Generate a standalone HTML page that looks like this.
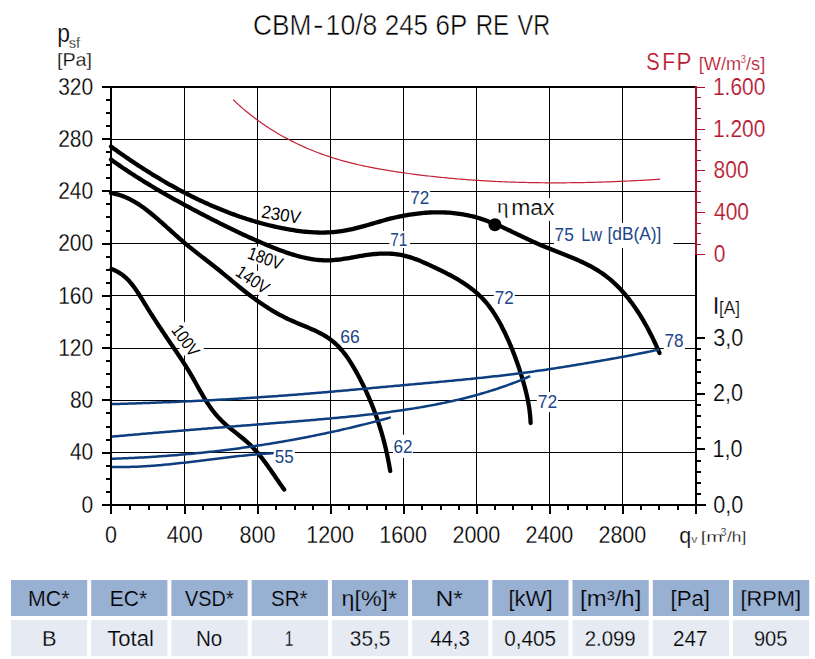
<!DOCTYPE html><html><head><meta charset="utf-8"><style>html,body{margin:0;padding:0;background:#fff;width:815px;height:659px;overflow:hidden}svg{display:block}text{font-family:"Liberation Sans", sans-serif;stroke:#fff;stroke-width:0.25px;paint-order:normal}</style></head><body>
<svg width="815" height="659" viewBox="0 0 815 659">
<g shape-rendering="crispEdges">
<rect x="184" y="88" width="1" height="416" fill="#000"/>
<rect x="257" y="88" width="1" height="416" fill="#000"/>
<rect x="330" y="88" width="1" height="416" fill="#000"/>
<rect x="403" y="88" width="1" height="416" fill="#000"/>
<rect x="476" y="88" width="1" height="416" fill="#000"/>
<rect x="549" y="88" width="1" height="416" fill="#000"/>
<rect x="622" y="88" width="1" height="416" fill="#000"/>
<rect x="112" y="139" width="583" height="1" fill="#000"/>
<rect x="112" y="191" width="583" height="1" fill="#000"/>
<rect x="112" y="243" width="583" height="1" fill="#000"/>
<rect x="112" y="295" width="583" height="1" fill="#000"/>
<rect x="112" y="348" width="583" height="1" fill="#000"/>
<rect x="112" y="400" width="583" height="1" fill="#000"/>
<rect x="112" y="452" width="583" height="1" fill="#000"/>
</g>
<rect x="409.2" y="189.0" width="20.7" height="17.0" fill="#fff"/>
<rect x="389.4" y="231.0" width="20.7" height="17.0" fill="#fff"/>
<rect x="493.8" y="289.0" width="21.0" height="17.0" fill="#fff"/>
<rect x="536.8" y="392.0" width="21.2" height="20.1" fill="#fff"/>
<rect x="663.8" y="332.0" width="21.2" height="17.5" fill="#fff"/>
<rect x="393.0" y="434.8" width="19.9" height="23.1" fill="#fff"/>
<rect x="273.8" y="447.5" width="21.2" height="18.0" fill="#fff"/>
<rect x="554.0" y="223.0" width="119.3" height="25.0" fill="#fff"/>
<rect x="495.5" y="198.0" width="61.0" height="22.9" fill="#fff"/>
<rect x="339.0" y="328.5" width="22.0" height="17.5" fill="#fff"/>
<path d="M233.10,99.59 L234.57,101.00 L236.05,102.40 L237.54,103.77 L239.05,105.14 L240.56,106.49 L242.09,107.83 L243.62,109.15 L245.17,110.46 L246.73,111.75 L248.30,113.03 L249.88,114.30 L251.47,115.55 L253.06,116.79 L254.67,118.01 L256.29,119.22 L257.92,120.42 L259.56,121.60 L261.21,122.77 L262.87,123.92 L264.53,125.06 L266.21,126.18 L267.89,127.30 L269.59,128.39 L271.29,129.48 L273.00,130.54 L274.72,131.60 L276.45,132.64 L278.18,133.67 L279.92,134.68 L281.68,135.68 L283.44,136.66 L285.20,137.63 L286.98,138.59 L288.76,139.53 L290.55,140.46 L292.34,141.38 L294.15,142.28 L295.96,143.17 L297.77,144.04 L299.60,144.90 L301.43,145.74 L303.26,146.58 L305.11,147.39 L306.95,148.20 L308.81,148.99 L310.67,149.76 L312.53,150.52 L314.41,151.27 L316.28,152.01 L318.16,152.73 L320.05,153.43 L321.94,154.13 L323.84,154.80 L325.74,155.47 L327.65,156.12 L329.56,156.76 L331.48,157.38 L333.40,157.99 L335.32,158.59 L337.25,159.17 L339.18,159.74 L341.12,160.30 L343.06,160.84 L345.00,161.38 L346.95,161.90 L348.90,162.41 L350.85,162.90 L352.81,163.39 L354.77,163.87 L356.73,164.33 L358.69,164.79 L360.66,165.23 L362.63,165.67 L364.61,166.09 L366.58,166.51 L368.56,166.92 L370.54,167.31 L372.52,167.70 L374.51,168.08 L376.50,168.46 L378.48,168.82 L380.47,169.18 L382.47,169.53 L384.46,169.87 L386.45,170.20 L388.45,170.53 L390.45,170.86 L392.45,171.17 L394.44,171.48 L396.44,171.79 L398.45,172.09 L400.45,172.38 L402.45,172.67 L404.45,172.95 L406.45,173.23 L408.46,173.51 L410.46,173.78 L412.46,174.05 L414.47,174.31 L416.47,174.56 L418.48,174.82 L420.48,175.07 L422.49,175.31 L424.50,175.55 L426.50,175.79 L428.51,176.02 L430.52,176.25 L432.52,176.47 L434.53,176.69 L436.54,176.90 L438.55,177.11 L440.55,177.32 L442.56,177.52 L444.57,177.72 L446.58,177.91 L448.59,178.10 L450.60,178.29 L452.61,178.47 L454.62,178.65 L456.63,178.82 L458.64,178.99 L460.66,179.15 L462.67,179.32 L464.68,179.47 L466.69,179.63 L468.70,179.78 L470.71,179.92 L472.73,180.06 L474.74,180.20 L476.75,180.34 L478.77,180.47 L480.78,180.59 L482.79,180.72 L484.81,180.84 L486.82,180.95 L488.84,181.06 L490.85,181.17 L492.86,181.28 L494.88,181.38 L496.89,181.48 L498.91,181.57 L500.92,181.66 L502.94,181.75 L504.95,181.83 L506.97,181.91 L508.99,181.98 L511.00,182.06 L513.02,182.13 L515.03,182.19 L517.05,182.25 L519.07,182.31 L521.08,182.37 L523.10,182.42 L525.12,182.47 L527.13,182.52 L529.15,182.56 L531.17,182.60 L533.18,182.63 L535.20,182.67 L537.22,182.69 L539.23,182.72 L541.25,182.74 L543.27,182.76 L545.29,182.78 L547.30,182.79 L549.32,182.80 L551.34,182.81 L553.36,182.82 L555.37,182.82 L557.39,182.82 L559.41,182.81 L561.43,182.80 L563.44,182.79 L565.46,182.78 L567.48,182.76 L569.50,182.74 L571.51,182.72 L573.53,182.70 L575.55,182.67 L577.57,182.64 L579.58,182.60 L581.60,182.57 L583.62,182.53 L585.64,182.49 L587.65,182.44 L589.67,182.39 L591.69,182.35 L593.70,182.29 L595.72,182.24 L597.74,182.18 L599.76,182.12 L601.77,182.06 L603.79,181.99 L605.81,181.92 L607.82,181.85 L609.84,181.78 L611.85,181.70 L613.87,181.63 L615.89,181.55 L617.90,181.46 L619.92,181.38 L621.93,181.29 L623.95,181.20 L625.96,181.11 L627.98,181.02 L630.00,180.92 L632.01,180.82 L634.02,180.72 L636.04,180.62 L638.05,180.51 L640.07,180.40 L642.08,180.29 L644.10,180.18 L646.11,180.07 L648.12,179.95 L650.14,179.83 L652.15,179.71 L654.16,179.59 L656.18,179.46 L658.19,179.34 L660.20,179.21" fill="none" stroke="#C42236" stroke-width="1.2"/>
<rect x="-21.65" y="-8.80" width="43.30" height="17.60" fill="#fff" transform="translate(281.600 214.700) rotate(10)"/>
<rect x="-19.25" y="-8.30" width="38.50" height="16.60" fill="#fff" transform="translate(266.000 258.500) rotate(20)"/>
<rect x="-20.75" y="-9.80" width="41.50" height="19.60" fill="#fff" transform="translate(253.200 279.900) rotate(34)"/>
<rect x="-20.00" y="-9.80" width="40.00" height="19.60" fill="#fff" transform="translate(186.000 340.900) rotate(54)"/>
<path d="M111.01,146.59 L112.63,147.76 L114.26,148.93 L115.88,150.09 L117.52,151.25 L119.15,152.41 L120.79,153.56 L122.44,154.71 L124.08,155.85 L125.73,156.99 L127.39,158.13 L129.05,159.26 L130.71,160.38 L132.37,161.50 L134.04,162.62 L135.72,163.73 L137.39,164.84 L139.07,165.94 L140.76,167.03 L142.45,168.12 L144.14,169.21 L145.83,170.29 L147.53,171.36 L149.24,172.43 L150.94,173.49 L152.65,174.55 L154.37,175.60 L156.09,176.64 L157.81,177.68 L159.53,178.71 L161.26,179.73 L162.99,180.75 L164.73,181.76 L166.47,182.77 L168.21,183.77 L169.96,184.76 L171.71,185.74 L173.47,186.72 L175.23,187.69 L176.99,188.65 L178.76,189.61 L180.53,190.56 L182.30,191.50 L184.08,192.43 L185.86,193.36 L187.65,194.27 L189.44,195.18 L191.23,196.08 L193.03,196.98 L194.83,197.86 L196.63,198.74 L198.44,199.61 L200.25,200.47 L202.07,201.32 L203.88,202.16 L205.71,203.00 L207.53,203.82 L209.37,204.64 L211.20,205.45 L213.04,206.24 L214.88,207.03 L216.73,207.81 L218.58,208.58 L220.43,209.34 L222.29,210.10 L224.15,210.84 L226.01,211.57 L227.88,212.29 L229.75,213.00 L231.63,213.70 L233.51,214.39 L235.39,215.08 L237.28,215.75 L239.17,216.41 L241.06,217.06 L242.96,217.69 L244.87,218.32 L246.77,218.94 L248.68,219.55 L250.60,220.14 L252.52,220.73 L254.44,221.30 L256.36,221.86 L258.29,222.41 L260.22,222.95 L262.16,223.48 L264.10,223.99 L266.05,224.50 L268.00,224.99 L269.95,225.47 L271.90,225.94 L273.86,226.39 L275.83,226.84 L277.80,227.27 L279.77,227.69 L281.74,228.09 L283.72,228.48 L285.70,228.86 L287.69,229.23 L289.68,229.58 L291.67,229.91 L293.66,230.23 L295.65,230.53 L297.65,230.81 L299.65,231.07 L301.65,231.31 L303.65,231.54 L305.65,231.74 L307.65,231.92 L309.65,232.09 L311.65,232.22 L313.66,232.34 L315.66,232.43 L317.66,232.50 L319.65,232.54 L321.65,232.55 L323.65,232.54 L325.64,232.50 L327.63,232.44 L329.62,232.34 L331.61,232.22 L333.59,232.07 L335.57,231.88 L337.55,231.67 L339.52,231.42 L341.49,231.14 L343.46,230.83 L345.42,230.49 L347.38,230.12 L349.33,229.72 L351.28,229.30 L353.23,228.85 L355.18,228.38 L357.13,227.90 L359.07,227.40 L361.01,226.88 L362.95,226.35 L364.89,225.81 L366.83,225.26 L368.77,224.70 L370.71,224.14 L372.65,223.57 L374.59,223.01 L376.53,222.44 L378.47,221.88 L380.42,221.32 L382.37,220.77 L384.31,220.23 L386.27,219.70 L388.22,219.18 L390.18,218.68 L392.14,218.19 L394.10,217.72 L396.07,217.27 L398.04,216.83 L400.01,216.41 L401.99,216.02 L403.97,215.63 L405.95,215.27 L407.93,214.93 L409.91,214.61 L411.89,214.30 L413.88,214.02 L415.86,213.76 L417.85,213.52 L419.84,213.29 L421.82,213.10 L423.81,212.92 L425.80,212.76 L427.78,212.63 L429.77,212.52 L431.75,212.43 L433.74,212.36 L435.72,212.32 L437.70,212.31 L439.68,212.31 L441.65,212.34 L443.63,212.40 L445.60,212.48 L447.57,212.59 L449.54,212.72 L451.50,212.88 L453.46,213.07 L455.42,213.28 L457.37,213.52 L459.32,213.79 L461.27,214.08 L463.21,214.41 L465.14,214.76 L467.07,215.14 L469.00,215.55 L470.92,215.98 L472.84,216.45 L474.75,216.95 L476.65,217.48 L478.55,218.04 L480.44,218.62 L482.33,219.24 L484.21,219.88 L486.09,220.54 L487.96,221.23 L489.83,221.94 L491.69,222.67 L493.56,223.42 L495.41,224.18 L497.27,224.97 L499.12,225.77 L500.97,226.58 L502.82,227.41 L504.67,228.25 L506.52,229.10 L508.36,229.96 L510.20,230.82 L512.05,231.69 L513.89,232.57 L515.73,233.45 L517.58,234.34 L519.42,235.22 L521.27,236.11 L523.11,236.99 L524.96,237.87 L526.81,238.75 L528.66,239.62 L530.52,240.48 L532.37,241.34 L534.23,242.19 L536.10,243.03 L537.96,243.85 L539.84,244.67 L541.71,245.47 L543.59,246.25 L545.47,247.03 L547.35,247.80 L549.24,248.56 L551.12,249.31 L553.00,250.06 L554.89,250.80 L556.77,251.54 L558.65,252.28 L560.52,253.01 L562.40,253.75 L564.27,254.49 L566.13,255.23 L567.99,255.98 L569.84,256.74 L571.69,257.50 L573.52,258.27 L575.35,259.05 L577.18,259.84 L578.99,260.64 L580.79,261.45 L582.58,262.28 L584.36,263.13 L586.12,264.00 L587.87,264.88 L589.61,265.78 L591.34,266.71 L593.05,267.65 L594.74,268.62 L596.42,269.62 L598.08,270.64 L599.73,271.69 L601.35,272.77 L602.96,273.88 L604.55,275.02 L606.11,276.19 L607.66,277.39 L609.19,278.63 L610.69,279.89 L612.18,281.19 L613.65,282.51 L615.10,283.86 L616.53,285.24 L617.94,286.64 L619.33,288.07 L620.70,289.52 L622.05,291.00 L623.39,292.50 L624.71,294.02 L626.00,295.56 L627.28,297.13 L628.55,298.71 L629.79,300.31 L631.02,301.93 L632.23,303.57 L633.42,305.22 L634.59,306.88 L635.75,308.57 L636.89,310.26 L638.01,311.97 L639.12,313.69 L640.21,315.43 L641.28,317.17 L642.34,318.92 L643.38,320.68 L644.40,322.45 L645.41,324.23 L646.41,326.02 L647.38,327.81 L648.35,329.60 L649.29,331.40 L650.22,333.20 L651.14,335.00 L652.04,336.81 L652.93,338.62 L653.80,340.42 L654.66,342.23 L655.50,344.03 L656.33,345.84 L657.14,347.63 L657.94,349.43 L658.73,351.22 L659.50,353.00" fill="none" stroke="#000" stroke-width="4.3" stroke-linecap="round" stroke-linejoin="round"/>
<path d="M111.01,159.59 L112.64,160.76 L114.28,161.93 L115.93,163.08 L117.58,164.23 L119.23,165.38 L120.89,166.51 L122.55,167.65 L124.22,168.77 L125.89,169.89 L127.56,171.00 L129.24,172.11 L130.92,173.21 L132.60,174.30 L134.29,175.39 L135.98,176.48 L137.68,177.55 L139.37,178.63 L141.07,179.69 L142.78,180.75 L144.48,181.81 L146.19,182.86 L147.91,183.91 L149.62,184.95 L151.34,185.98 L153.06,187.01 L154.79,188.04 L156.52,189.06 L158.25,190.08 L159.98,191.09 L161.71,192.10 L163.45,193.10 L165.19,194.10 L166.93,195.09 L168.68,196.08 L170.42,197.07 L172.17,198.05 L173.92,199.03 L175.68,200.01 L177.43,200.98 L179.19,201.94 L180.95,202.91 L182.71,203.87 L184.47,204.82 L186.23,205.78 L188.00,206.73 L189.77,207.67 L191.54,208.62 L193.31,209.56 L195.08,210.50 L196.85,211.43 L198.63,212.36 L200.40,213.29 L202.18,214.22 L203.96,215.14 L205.74,216.06 L207.52,216.98 L209.30,217.90 L211.08,218.81 L212.87,219.72 L214.65,220.63 L216.44,221.54 L218.23,222.44 L220.02,223.34 L221.81,224.23 L223.60,225.13 L225.40,226.02 L227.19,226.90 L228.99,227.78 L230.80,228.66 L232.60,229.53 L234.41,230.40 L236.22,231.26 L238.03,232.12 L239.84,232.98 L241.66,233.83 L243.48,234.68 L245.30,235.52 L247.13,236.36 L248.95,237.19 L250.79,238.01 L252.62,238.83 L254.46,239.65 L256.30,240.46 L258.14,241.26 L259.99,242.06 L261.85,242.86 L263.70,243.64 L265.56,244.42 L267.42,245.20 L269.29,245.97 L271.16,246.73 L273.04,247.48 L274.92,248.23 L276.80,248.96 L278.69,249.69 L280.58,250.40 L282.48,251.10 L284.38,251.78 L286.28,252.45 L288.19,253.10 L290.10,253.73 L292.02,254.34 L293.94,254.93 L295.86,255.50 L297.79,256.04 L299.72,256.55 L301.65,257.04 L303.59,257.50 L305.54,257.93 L307.48,258.33 L309.43,258.70 L311.39,259.03 L313.34,259.33 L315.31,259.60 L317.27,259.82 L319.24,260.01 L321.21,260.15 L323.19,260.26 L325.17,260.32 L327.15,260.34 L329.14,260.31 L331.13,260.24 L333.12,260.12 L335.12,259.96 L337.12,259.76 L339.12,259.53 L341.12,259.27 L343.13,258.99 L345.14,258.68 L347.15,258.35 L349.16,258.01 L351.18,257.66 L353.19,257.31 L355.21,256.95 L357.22,256.59 L359.24,256.23 L361.26,255.88 L363.27,255.55 L365.29,255.23 L367.31,254.93 L369.32,254.65 L371.34,254.40 L373.35,254.18 L375.36,253.99 L377.37,253.83 L379.38,253.71 L381.38,253.62 L383.38,253.57 L385.37,253.56 L387.36,253.58 L389.34,253.65 L391.31,253.76 L393.28,253.91 L395.24,254.10 L397.19,254.35 L399.14,254.64 L401.07,254.98 L402.99,255.37 L404.91,255.81 L406.81,256.30 L408.71,256.83 L410.59,257.41 L412.47,258.03 L414.35,258.69 L416.21,259.37 L418.07,260.10 L419.93,260.84 L421.78,261.62 L423.63,262.41 L425.48,263.23 L427.32,264.06 L429.16,264.90 L431.00,265.76 L432.85,266.62 L434.69,267.48 L436.53,268.36 L438.37,269.24 L440.21,270.13 L442.04,271.03 L443.87,271.94 L445.69,272.86 L447.50,273.80 L449.30,274.75 L451.09,275.71 L452.88,276.69 L454.65,277.68 L456.41,278.69 L458.15,279.71 L459.88,280.76 L461.59,281.82 L463.28,282.91 L464.96,284.01 L466.61,285.14 L468.25,286.29 L469.86,287.47 L471.45,288.67 L473.02,289.89 L474.56,291.14 L476.07,292.42 L477.56,293.73 L479.02,295.07 L480.44,296.43 L481.84,297.83 L483.21,299.26 L484.54,300.72 L485.84,302.21 L487.11,303.73 L488.35,305.28 L489.56,306.86 L490.74,308.46 L491.90,310.09 L493.03,311.74 L494.13,313.41 L495.21,315.11 L496.26,316.82 L497.30,318.54 L498.31,320.29 L499.30,322.05 L500.27,323.82 L501.22,325.60 L502.15,327.39 L503.06,329.20 L503.96,331.01 L504.85,332.82 L505.71,334.64 L506.57,336.47 L507.41,338.30 L508.23,340.14 L509.05,341.98 L509.84,343.83 L510.63,345.68 L511.40,347.53 L512.16,349.39 L512.91,351.26 L513.64,353.13 L514.36,355.00 L515.07,356.88 L515.76,358.76 L516.45,360.64 L517.12,362.53 L517.78,364.42 L518.43,366.32 L519.07,368.22 L519.70,370.12 L520.31,372.03 L520.92,373.94 L521.51,375.85 L522.10,377.77 L522.68,379.69 L523.24,381.61 L523.79,383.54 L524.33,385.47 L524.85,387.41 L525.36,389.34 L525.85,391.29 L526.33,393.23 L526.78,395.18 L527.22,397.14 L527.63,399.10 L528.03,401.06 L528.40,403.03 L528.74,405.00 L529.06,406.98 L529.36,408.96 L529.62,410.95 L529.86,412.95 L530.07,414.95 L530.25,416.95 L530.40,418.96 L530.52,420.98 L530.60,423.00" fill="none" stroke="#000" stroke-width="4.3" stroke-linecap="round" stroke-linejoin="round"/>
<path d="M111.00,193.00 L113.06,193.36 L115.09,193.79 L117.08,194.29 L119.04,194.85 L120.97,195.47 L122.87,196.14 L124.74,196.87 L126.59,197.66 L128.40,198.49 L130.19,199.37 L131.96,200.30 L133.70,201.27 L135.42,202.28 L137.12,203.33 L138.80,204.41 L140.46,205.52 L142.10,206.66 L143.73,207.83 L145.34,209.03 L146.93,210.24 L148.52,211.48 L150.09,212.73 L151.65,214.00 L153.21,215.28 L154.75,216.57 L156.29,217.88 L157.81,219.19 L159.34,220.52 L160.85,221.85 L162.36,223.18 L163.87,224.53 L165.37,225.88 L166.88,227.23 L168.38,228.58 L169.88,229.93 L171.38,231.29 L172.88,232.64 L174.38,233.99 L175.88,235.34 L177.39,236.68 L178.91,238.01 L180.42,239.34 L181.95,240.66 L183.48,241.98 L185.01,243.28 L186.56,244.57 L188.11,245.85 L189.67,247.12 L191.24,248.39 L192.81,249.65 L194.38,250.90 L195.96,252.14 L197.55,253.38 L199.13,254.62 L200.72,255.85 L202.31,257.09 L203.90,258.32 L205.49,259.55 L207.09,260.78 L208.68,262.01 L210.27,263.25 L211.86,264.48 L213.44,265.73 L215.03,266.97 L216.61,268.22 L218.18,269.48 L219.76,270.75 L221.32,272.02 L222.88,273.30 L224.44,274.59 L226.00,275.88 L227.55,277.17 L229.10,278.47 L230.65,279.77 L232.20,281.07 L233.75,282.36 L235.31,283.66 L236.86,284.94 L238.42,286.23 L239.99,287.50 L241.56,288.77 L243.13,290.03 L244.71,291.29 L246.29,292.53 L247.89,293.76 L249.48,294.98 L251.09,296.19 L252.70,297.39 L254.32,298.58 L255.95,299.76 L257.58,300.93 L259.23,302.08 L260.88,303.22 L262.54,304.34 L264.21,305.46 L265.89,306.55 L267.58,307.64 L269.28,308.70 L270.99,309.76 L272.71,310.79 L274.44,311.81 L276.18,312.81 L277.94,313.80 L279.70,314.77 L281.48,315.71 L283.27,316.65 L285.07,317.56 L286.89,318.45 L288.72,319.32 L290.56,320.17 L292.42,321.01 L294.28,321.82 L296.16,322.62 L298.04,323.41 L299.93,324.20 L301.82,324.98 L303.70,325.75 L305.59,326.53 L307.47,327.32 L309.34,328.11 L311.20,328.92 L313.05,329.74 L314.88,330.57 L316.70,331.43 L318.50,332.31 L320.27,333.22 L322.02,334.16 L323.75,335.13 L325.45,336.14 L327.12,337.19 L328.75,338.28 L330.35,339.42 L331.91,340.60 L333.43,341.84 L334.91,343.12 L336.35,344.46 L337.76,345.83 L339.13,347.26 L340.47,348.72 L341.78,350.21 L343.06,351.75 L344.30,353.32 L345.52,354.92 L346.71,356.54 L347.88,358.20 L349.02,359.88 L350.13,361.58 L351.23,363.30 L352.30,365.04 L353.35,366.80 L354.38,368.57 L355.40,370.35 L356.40,372.14 L357.38,373.94 L358.35,375.74 L359.31,377.54 L360.25,379.36 L361.18,381.17 L362.10,382.99 L363.00,384.81 L363.89,386.64 L364.77,388.47 L365.63,390.31 L366.48,392.15 L367.32,393.99 L368.14,395.84 L368.95,397.69 L369.74,399.55 L370.53,401.41 L371.30,403.27 L372.05,405.14 L372.80,407.02 L373.53,408.89 L374.24,410.77 L374.95,412.66 L375.64,414.55 L376.32,416.44 L376.98,418.34 L377.64,420.24 L378.28,422.15 L378.90,424.05 L379.52,425.97 L380.12,427.88 L380.71,429.80 L381.28,431.73 L381.85,433.66 L382.40,435.59 L382.94,437.53 L383.46,439.47 L383.98,441.41 L384.48,443.36 L384.97,445.31 L385.44,447.26 L385.91,449.22 L386.36,451.18 L386.80,453.15 L387.23,455.12 L387.64,457.09 L388.04,459.07 L388.43,461.05 L388.81,463.03 L389.18,465.02 L389.53,467.01 L389.88,469.00 L390.21,471.00" fill="none" stroke="#000" stroke-width="4.3" stroke-linecap="round" stroke-linejoin="round"/>
<path d="M111.50,269.09 L113.50,269.84 L115.42,270.68 L117.27,271.61 L119.03,272.61 L120.72,273.69 L122.35,274.84 L123.91,276.06 L125.42,277.35 L126.86,278.69 L128.25,280.09 L129.60,281.54 L130.90,283.04 L132.16,284.58 L133.38,286.16 L134.57,287.78 L135.73,289.43 L136.87,291.10 L137.98,292.79 L139.08,294.51 L140.16,296.24 L141.23,297.97 L142.30,299.72 L143.36,301.46 L144.42,303.21 L145.49,304.94 L146.57,306.68 L147.64,308.40 L148.73,310.13 L149.81,311.84 L150.90,313.56 L151.99,315.27 L153.09,316.97 L154.19,318.67 L155.29,320.37 L156.40,322.07 L157.51,323.76 L158.62,325.45 L159.73,327.13 L160.85,328.81 L161.97,330.49 L163.09,332.17 L164.22,333.85 L165.34,335.52 L166.47,337.19 L167.60,338.87 L168.73,340.53 L169.86,342.20 L170.99,343.87 L172.13,345.54 L173.26,347.20 L174.39,348.87 L175.53,350.54 L176.66,352.21 L177.78,353.88 L178.91,355.56 L180.03,357.24 L181.14,358.92 L182.25,360.61 L183.35,362.30 L184.45,364.00 L185.53,365.71 L186.61,367.43 L187.67,369.15 L188.73,370.88 L189.77,372.63 L190.80,374.38 L191.82,376.14 L192.83,377.91 L193.84,379.68 L194.84,381.46 L195.84,383.24 L196.83,385.02 L197.83,386.80 L198.83,388.57 L199.83,390.34 L200.84,392.11 L201.86,393.87 L202.89,395.62 L203.92,397.36 L204.98,399.09 L206.04,400.81 L207.13,402.51 L208.23,404.19 L209.35,405.86 L210.50,407.50 L211.67,409.13 L212.86,410.73 L214.08,412.31 L215.34,413.87 L216.62,415.39 L217.94,416.89 L219.29,418.36 L220.68,419.79 L222.11,421.20 L223.56,422.57 L225.05,423.92 L226.57,425.25 L228.11,426.55 L229.66,427.84 L231.23,429.12 L232.82,430.39 L234.41,431.66 L236.00,432.92 L237.60,434.18 L239.19,435.44 L240.78,436.71 L242.35,437.99 L243.91,439.28 L245.46,440.59 L246.98,441.92 L248.47,443.28 L249.94,444.66 L251.38,446.06 L252.79,447.49 L254.17,448.95 L255.52,450.43 L256.85,451.94 L258.16,453.46 L259.45,455.01 L260.71,456.57 L261.96,458.15 L263.19,459.74 L264.41,461.35 L265.61,462.98 L266.80,464.61 L267.97,466.25 L269.14,467.91 L270.30,469.57 L271.46,471.24 L272.61,472.91 L273.76,474.58 L274.90,476.26 L276.05,477.94 L277.20,479.62 L278.35,481.30 L279.50,482.97 L280.66,484.64 L281.83,486.30 L283.01,487.96 L284.20,489.60" fill="none" stroke="#000" stroke-width="4.3" stroke-linecap="round" stroke-linejoin="round"/>
<circle cx="494.9" cy="224.7" r="6.5" fill="#000"/>
<path d="M111.00,404.10 L113.01,404.04 L115.03,403.99 L117.04,403.93 L119.05,403.88 L121.07,403.82 L123.08,403.76 L125.09,403.70 L127.10,403.64 L129.12,403.58 L131.13,403.52 L133.14,403.45 L135.15,403.39 L137.17,403.32 L139.18,403.26 L141.19,403.19 L143.20,403.12 L145.22,403.05 L147.23,402.98 L149.24,402.91 L151.25,402.83 L153.26,402.76 L155.27,402.68 L157.29,402.61 L159.30,402.53 L161.31,402.45 L163.32,402.37 L165.33,402.29 L167.34,402.21 L169.35,402.13 L171.36,402.05 L173.37,401.96 L175.39,401.88 L177.40,401.79 L179.41,401.70 L181.42,401.61 L183.43,401.52 L185.44,401.43 L187.45,401.34 L189.46,401.25 L191.47,401.15 L193.48,401.06 L195.49,400.96 L197.50,400.86 L199.51,400.76 L201.52,400.66 L203.53,400.56 L205.54,400.46 L207.55,400.36 L209.56,400.25 L211.57,400.15 L213.57,400.04 L215.58,399.93 L217.59,399.82 L219.60,399.71 L221.61,399.60 L223.62,399.49 L225.63,399.38 L227.64,399.26 L229.65,399.14 L231.65,399.03 L233.66,398.91 L235.67,398.79 L237.68,398.67 L239.69,398.55 L241.70,398.42 L243.70,398.30 L245.71,398.17 L247.72,398.05 L249.73,397.92 L251.74,397.79 L253.74,397.66 L255.75,397.53 L257.76,397.39 L259.77,397.26 L261.77,397.12 L263.78,396.99 L265.79,396.85 L267.80,396.71 L269.80,396.57 L271.81,396.43 L273.82,396.29 L275.82,396.14 L277.83,396.00 L279.84,395.85 L281.85,395.70 L283.85,395.55 L285.86,395.40 L287.86,395.25 L289.87,395.10 L291.88,394.94 L293.88,394.79 L295.89,394.63 L297.90,394.47 L299.90,394.31 L301.91,394.15 L303.91,393.99 L305.92,393.83 L307.93,393.67 L309.93,393.50 L311.94,393.34 L313.94,393.17 L315.95,393.00 L317.95,392.83 L319.96,392.66 L321.97,392.49 L323.97,392.32 L325.98,392.15 L327.98,391.98 L329.99,391.80 L331.99,391.63 L334.00,391.45 L336.00,391.28 L338.01,391.10 L340.01,390.93 L342.02,390.75 L344.02,390.57 L346.03,390.39 L348.03,390.21 L350.04,390.03 L352.04,389.85 L354.05,389.67 L356.05,389.49 L358.06,389.31 L360.06,389.13 L362.07,388.95 L364.07,388.76 L366.08,388.58 L368.08,388.40 L370.09,388.22 L372.09,388.03 L374.10,387.85 L376.10,387.67 L378.11,387.48 L380.11,387.30 L382.12,387.12 L384.12,386.93 L386.13,386.75 L388.13,386.57 L390.14,386.38 L392.14,386.20 L394.15,386.02 L396.15,385.83 L398.16,385.65 L400.16,385.47 L402.17,385.29 L404.17,385.10 L406.18,384.92 L408.18,384.74 L410.19,384.56 L412.19,384.38 L414.20,384.20 L416.20,384.01 L418.21,383.83 L420.21,383.65 L422.22,383.47 L424.22,383.29 L426.23,383.11 L428.23,382.92 L430.24,382.74 L432.24,382.56 L434.25,382.37 L436.25,382.19 L438.25,382.00 L440.26,381.82 L442.26,381.63 L444.27,381.44 L446.27,381.26 L448.28,381.07 L450.28,380.88 L452.28,380.69 L454.29,380.50 L456.29,380.30 L458.29,380.11 L460.30,379.91 L462.30,379.72 L464.30,379.52 L466.30,379.32 L468.31,379.12 L470.31,378.92 L472.31,378.71 L474.31,378.51 L476.31,378.30 L478.32,378.09 L480.32,377.88 L482.32,377.67 L484.32,377.46 L486.32,377.24 L488.32,377.03 L490.32,376.81 L492.32,376.59 L494.32,376.36 L496.32,376.14 L498.32,375.91 L500.31,375.68 L502.31,375.45 L504.31,375.21 L506.31,374.97 L508.31,374.73 L510.30,374.49 L512.30,374.25 L514.30,374.00 L516.29,373.75 L518.29,373.50 L520.28,373.24 L522.28,372.98 L524.27,372.72 L526.27,372.46 L528.26,372.19 L530.25,371.92 L532.25,371.65 L534.24,371.37 L536.23,371.09 L538.23,370.81 L540.22,370.52 L542.21,370.23 L544.20,369.94 L546.19,369.64 L548.18,369.34 L550.17,369.04 L552.16,368.74 L554.15,368.43 L556.14,368.12 L558.12,367.81 L560.11,367.49 L562.10,367.18 L564.09,366.86 L566.07,366.54 L568.06,366.22 L570.05,365.90 L572.04,365.57 L574.02,365.25 L576.01,364.92 L577.99,364.60 L579.98,364.27 L581.97,363.94 L583.95,363.61 L585.94,363.28 L587.92,362.94 L589.91,362.61 L591.89,362.27 L593.88,361.94 L595.86,361.60 L597.85,361.26 L599.83,360.91 L601.81,360.57 L603.80,360.22 L605.78,359.88 L607.76,359.53 L609.74,359.17 L611.72,358.82 L613.71,358.46 L615.69,358.11 L617.67,357.74 L619.65,357.38 L621.62,357.02 L623.60,356.65 L625.58,356.28 L627.56,355.90 L629.53,355.53 L631.51,355.15 L633.49,354.76 L635.46,354.38 L637.43,353.99 L639.41,353.60 L641.38,353.21 L643.35,352.81 L645.32,352.41 L647.29,352.00 L649.26,351.60 L651.23,351.18 L653.20,350.77 L655.17,350.35 L657.14,349.93 L659.10,349.50" fill="none" stroke="#0C3E80" stroke-width="2.5"/>
<path d="M111.00,436.71 L113.01,436.53 L115.01,436.35 L117.02,436.17 L119.02,435.99 L121.03,435.81 L123.04,435.63 L125.04,435.45 L127.05,435.27 L129.05,435.09 L131.06,434.92 L133.06,434.74 L135.07,434.57 L137.08,434.39 L139.08,434.22 L141.09,434.04 L143.10,433.87 L145.10,433.69 L147.11,433.52 L149.11,433.35 L151.12,433.18 L153.13,433.01 L155.13,432.84 L157.14,432.67 L159.15,432.50 L161.16,432.33 L163.16,432.16 L165.17,431.99 L167.18,431.82 L169.18,431.65 L171.19,431.48 L173.20,431.32 L175.21,431.15 L177.21,430.98 L179.22,430.82 L181.23,430.65 L183.24,430.49 L185.25,430.32 L187.25,430.16 L189.26,429.99 L191.27,429.83 L193.28,429.66 L195.29,429.50 L197.29,429.33 L199.30,429.17 L201.31,429.01 L203.32,428.84 L205.33,428.68 L207.34,428.52 L209.35,428.36 L211.36,428.19 L213.36,428.03 L215.37,427.87 L217.38,427.71 L219.39,427.55 L221.40,427.39 L223.41,427.22 L225.42,427.06 L227.43,426.90 L229.44,426.74 L231.45,426.58 L233.46,426.42 L235.47,426.26 L237.48,426.10 L239.49,425.93 L241.50,425.77 L243.51,425.61 L245.52,425.45 L247.53,425.29 L249.54,425.13 L251.56,424.97 L253.57,424.81 L255.58,424.65 L257.59,424.49 L259.60,424.33 L261.61,424.16 L263.62,424.00 L265.63,423.84 L267.65,423.68 L269.66,423.52 L271.67,423.36 L273.68,423.19 L275.69,423.03 L277.71,422.87 L279.72,422.71 L281.73,422.55 L283.74,422.38 L285.76,422.22 L287.77,422.06 L289.78,421.89 L291.79,421.73 L293.81,421.57 L295.82,421.40 L297.83,421.24 L299.85,421.07 L301.86,420.91 L303.87,420.74 L305.89,420.57 L307.90,420.40 L309.91,420.24 L311.93,420.07 L313.94,419.89 L315.95,419.72 L317.96,419.55 L319.98,419.37 L321.99,419.20 L324.00,419.02 L326.01,418.84 L328.03,418.66 L330.04,418.48 L332.05,418.30 L334.06,418.11 L336.07,417.92 L338.08,417.73 L340.09,417.54 L342.10,417.35 L344.11,417.15 L346.12,416.96 L348.13,416.76 L350.14,416.55 L352.15,416.35 L354.16,416.14 L356.16,415.93 L358.17,415.72 L360.18,415.50 L362.18,415.28 L364.19,415.06 L366.19,414.84 L368.20,414.61 L370.20,414.38 L372.21,414.15 L374.21,413.91 L376.21,413.67 L378.21,413.42 L380.21,413.18 L382.21,412.93 L384.21,412.67 L386.21,412.41 L388.21,412.15 L390.21,411.88 L392.20,411.61 L394.20,411.34 L396.20,411.06 L398.19,410.78 L400.18,410.49 L402.18,410.20 L404.17,409.91 L406.16,409.61 L408.15,409.30 L410.14,408.99 L412.13,408.68 L414.11,408.36 L416.10,408.03 L418.08,407.70 L420.07,407.37 L422.05,407.03 L424.03,406.68 L426.01,406.33 L427.99,405.98 L429.97,405.61 L431.95,405.24 L433.92,404.87 L435.90,404.49 L437.87,404.10 L439.84,403.71 L441.81,403.31 L443.78,402.90 L445.74,402.49 L447.71,402.07 L449.67,401.64 L451.63,401.21 L453.59,400.77 L455.55,400.32 L457.51,399.87 L459.46,399.40 L461.41,398.93 L463.37,398.46 L465.31,397.97 L467.26,397.48 L469.21,396.98 L471.15,396.47 L473.09,395.95 L475.03,395.43 L476.97,394.89 L478.90,394.35 L480.84,393.80 L482.77,393.24 L484.69,392.67 L486.62,392.09 L488.54,391.51 L490.46,390.91 L492.38,390.31 L494.30,389.69 L496.21,389.07 L498.13,388.44 L500.04,387.80 L501.94,387.14 L503.85,386.48 L505.75,385.81 L507.65,385.13 L509.54,384.44 L511.44,383.73 L513.33,383.02 L515.22,382.30 L517.10,381.56 L518.98,380.82 L520.86,380.06 L522.74,379.30 L524.61,378.52 L526.48,377.73 L528.35,376.93 L530.22,376.12" fill="none" stroke="#0C3E80" stroke-width="2.5"/>
<path d="M111.00,458.79 L113.03,458.73 L115.05,458.66 L117.08,458.59 L119.11,458.52 L121.13,458.44 L123.16,458.36 L125.18,458.27 L127.21,458.19 L129.23,458.10 L131.26,458.00 L133.28,457.91 L135.31,457.81 L137.33,457.70 L139.36,457.60 L141.38,457.49 L143.40,457.38 L145.43,457.26 L147.45,457.14 L149.47,457.02 L151.49,456.89 L153.52,456.76 L155.54,456.63 L157.56,456.50 L159.58,456.36 L161.60,456.22 L163.62,456.07 L165.64,455.93 L167.66,455.77 L169.68,455.62 L171.70,455.46 L173.72,455.30 L175.74,455.14 L177.76,454.97 L179.78,454.80 L181.79,454.62 L183.81,454.45 L185.83,454.27 L187.85,454.08 L189.86,453.90 L191.88,453.71 L193.89,453.51 L195.91,453.31 L197.92,453.11 L199.94,452.91 L201.95,452.70 L203.97,452.49 L205.98,452.28 L207.99,452.06 L210.00,451.84 L212.02,451.62 L214.03,451.39 L216.04,451.16 L218.05,450.93 L220.06,450.69 L222.07,450.45 L224.08,450.21 L226.09,449.96 L228.10,449.71 L230.10,449.46 L232.11,449.20 L234.12,448.94 L236.12,448.67 L238.13,448.41 L240.14,448.14 L242.14,447.86 L244.15,447.59 L246.15,447.30 L248.15,447.02 L250.16,446.73 L252.16,446.44 L254.16,446.15 L256.16,445.85 L258.16,445.55 L260.17,445.24 L262.17,444.94 L264.16,444.62 L266.16,444.31 L268.16,443.99 L270.16,443.67 L272.16,443.34 L274.15,443.02 L276.15,442.68 L278.15,442.35 L280.14,442.01 L282.14,441.67 L284.13,441.32 L286.12,440.97 L288.11,440.62 L290.11,440.26 L292.10,439.90 L294.09,439.54 L296.08,439.17 L298.07,438.80 L300.06,438.43 L302.05,438.05 L304.03,437.67 L306.02,437.28 L308.01,436.90 L309.99,436.51 L311.98,436.11 L313.96,435.71 L315.95,435.31 L317.93,434.90 L319.91,434.50 L321.89,434.08 L323.88,433.67 L325.86,433.25 L327.84,432.82 L329.81,432.40 L331.79,431.97 L333.77,431.53 L335.75,431.10 L337.72,430.66 L339.70,430.21 L341.67,429.76 L343.65,429.31 L345.62,428.86 L347.59,428.40 L349.57,427.93 L351.54,427.47 L353.51,427.00 L355.48,426.52 L357.45,426.05 L359.41,425.57 L361.38,425.08 L363.35,424.60 L365.31,424.10 L367.28,423.61 L369.24,423.11 L371.21,422.61 L373.17,422.10 L375.13,421.59 L377.09,421.08 L379.05,420.56 L381.01,420.04 L382.97,419.52 L384.93,418.99 L386.89,418.46 L388.84,417.92 L390.80,417.38" fill="none" stroke="#0C3E80" stroke-width="2.5"/>
<path d="M111.00,466.90 L113.05,466.95 L115.10,466.99 L117.15,467.01 L119.20,467.03 L121.24,467.03 L123.29,467.02 L125.33,466.99 L127.38,466.96 L129.42,466.92 L131.46,466.86 L133.50,466.80 L135.54,466.72 L137.58,466.64 L139.62,466.54 L141.66,466.44 L143.69,466.33 L145.73,466.21 L147.76,466.08 L149.80,465.94 L151.83,465.80 L153.86,465.65 L155.90,465.49 L157.93,465.32 L159.96,465.15 L161.99,464.97 L164.02,464.78 L166.05,464.59 L168.08,464.40 L170.11,464.19 L172.13,463.99 L174.16,463.77 L176.19,463.56 L178.22,463.34 L180.24,463.11 L182.27,462.88 L184.30,462.65 L186.32,462.41 L188.35,462.18 L190.37,461.94 L192.40,461.69 L194.42,461.45 L196.45,461.20 L198.47,460.95 L200.50,460.70 L202.52,460.45 L204.54,460.20 L206.57,459.95 L208.59,459.70 L210.62,459.45 L212.64,459.19 L214.67,458.94 L216.69,458.69 L218.71,458.45 L220.74,458.20 L222.76,457.95 L224.79,457.71 L226.81,457.47 L228.84,457.23 L230.86,457.00 L232.89,456.76 L234.92,456.54 L236.94,456.31 L238.97,456.09 L241.00,455.87 L243.02,455.66 L245.05,455.45 L247.08,455.25 L249.11,455.05 L251.14,454.86 L253.17,454.67 L255.20,454.49 L257.23,454.32 L259.26,454.15 L261.29,453.99 L263.33,453.84 L265.36,453.70 L267.39,453.56 L269.43,453.43 L271.46,453.31 L273.50,453.20" fill="none" stroke="#0C3E80" stroke-width="2.5"/>
<g shape-rendering="crispEdges">
<rect x="102" y="86" width="593" height="2" fill="#000"/>
<rect x="102" y="504" width="604" height="2" fill="#000"/>
<rect x="110" y="86" width="2" height="428" fill="#000"/>
<rect x="695" y="255" width="2" height="251" fill="#000"/>
<rect x="695" y="86" width="2" height="169" fill="#A8122C"/>
<rect x="102" y="504" width="8" height="2" fill="#000"/>
<rect x="106" y="491" width="4" height="2" fill="#000"/>
<rect x="106" y="478" width="4" height="2" fill="#000"/>
<rect x="106" y="465" width="4" height="2" fill="#000"/>
<rect x="102" y="452" width="8" height="2" fill="#000"/>
<rect x="106" y="439" width="4" height="2" fill="#000"/>
<rect x="106" y="426" width="4" height="2" fill="#000"/>
<rect x="106" y="412" width="4" height="2" fill="#000"/>
<rect x="102" y="399" width="8" height="2" fill="#000"/>
<rect x="106" y="386" width="4" height="2" fill="#000"/>
<rect x="106" y="373" width="4" height="2" fill="#000"/>
<rect x="106" y="360" width="4" height="2" fill="#000"/>
<rect x="102" y="347" width="8" height="2" fill="#000"/>
<rect x="106" y="334" width="4" height="2" fill="#000"/>
<rect x="106" y="321" width="4" height="2" fill="#000"/>
<rect x="106" y="308" width="4" height="2" fill="#000"/>
<rect x="102" y="295" width="8" height="2" fill="#000"/>
<rect x="106" y="282" width="4" height="2" fill="#000"/>
<rect x="106" y="269" width="4" height="2" fill="#000"/>
<rect x="106" y="256" width="4" height="2" fill="#000"/>
<rect x="102" y="243" width="8" height="2" fill="#000"/>
<rect x="106" y="230" width="4" height="2" fill="#000"/>
<rect x="106" y="216" width="4" height="2" fill="#000"/>
<rect x="106" y="203" width="4" height="2" fill="#000"/>
<rect x="102" y="190" width="8" height="2" fill="#000"/>
<rect x="106" y="177" width="4" height="2" fill="#000"/>
<rect x="106" y="164" width="4" height="2" fill="#000"/>
<rect x="106" y="151" width="4" height="2" fill="#000"/>
<rect x="102" y="138" width="8" height="2" fill="#000"/>
<rect x="106" y="125" width="4" height="2" fill="#000"/>
<rect x="106" y="112" width="4" height="2" fill="#000"/>
<rect x="106" y="99" width="4" height="2" fill="#000"/>
<rect x="102" y="86" width="8" height="2" fill="#000"/>
<rect x="129" y="506" width="2" height="4" fill="#000"/>
<rect x="148" y="506" width="2" height="4" fill="#000"/>
<rect x="166" y="506" width="2" height="4" fill="#000"/>
<rect x="184" y="506" width="2" height="8" fill="#000"/>
<rect x="202" y="506" width="2" height="4" fill="#000"/>
<rect x="220" y="506" width="2" height="4" fill="#000"/>
<rect x="239" y="506" width="2" height="4" fill="#000"/>
<rect x="257" y="506" width="2" height="8" fill="#000"/>
<rect x="275" y="506" width="2" height="4" fill="#000"/>
<rect x="294" y="506" width="2" height="4" fill="#000"/>
<rect x="312" y="506" width="2" height="4" fill="#000"/>
<rect x="330" y="506" width="2" height="8" fill="#000"/>
<rect x="348" y="506" width="2" height="4" fill="#000"/>
<rect x="366" y="506" width="2" height="4" fill="#000"/>
<rect x="385" y="506" width="2" height="4" fill="#000"/>
<rect x="403" y="506" width="2" height="8" fill="#000"/>
<rect x="421" y="506" width="2" height="4" fill="#000"/>
<rect x="440" y="506" width="2" height="4" fill="#000"/>
<rect x="458" y="506" width="2" height="4" fill="#000"/>
<rect x="476" y="506" width="2" height="8" fill="#000"/>
<rect x="494" y="506" width="2" height="4" fill="#000"/>
<rect x="512" y="506" width="2" height="4" fill="#000"/>
<rect x="531" y="506" width="2" height="4" fill="#000"/>
<rect x="549" y="506" width="2" height="8" fill="#000"/>
<rect x="567" y="506" width="2" height="4" fill="#000"/>
<rect x="586" y="506" width="2" height="4" fill="#000"/>
<rect x="604" y="506" width="2" height="4" fill="#000"/>
<rect x="622" y="506" width="2" height="8" fill="#000"/>
<rect x="640" y="506" width="2" height="4" fill="#000"/>
<rect x="658" y="506" width="2" height="4" fill="#000"/>
<rect x="677" y="506" width="2" height="4" fill="#000"/>
<rect x="695" y="506" width="2" height="8" fill="#000"/>
<rect x="697" y="254" width="8" height="1" fill="#A8122C"/>
<rect x="697" y="244" width="4" height="1" fill="#A8122C"/>
<rect x="697" y="233" width="4" height="1" fill="#A8122C"/>
<rect x="697" y="223" width="4" height="1" fill="#A8122C"/>
<rect x="697" y="212" width="8" height="1" fill="#A8122C"/>
<rect x="697" y="202" width="4" height="1" fill="#A8122C"/>
<rect x="697" y="191" width="4" height="1" fill="#A8122C"/>
<rect x="697" y="181" width="4" height="1" fill="#A8122C"/>
<rect x="697" y="170" width="8" height="1" fill="#A8122C"/>
<rect x="697" y="160" width="4" height="1" fill="#A8122C"/>
<rect x="697" y="150" width="4" height="1" fill="#A8122C"/>
<rect x="697" y="139" width="4" height="1" fill="#A8122C"/>
<rect x="697" y="129" width="8" height="1" fill="#A8122C"/>
<rect x="697" y="118" width="4" height="1" fill="#A8122C"/>
<rect x="697" y="108" width="4" height="1" fill="#A8122C"/>
<rect x="697" y="97" width="4" height="1" fill="#A8122C"/>
<rect x="697" y="87" width="8" height="1" fill="#A8122C"/>
<rect x="697" y="504" width="8" height="2" fill="#000"/>
<rect x="697" y="493" width="4" height="2" fill="#000"/>
<rect x="697" y="482" width="4" height="2" fill="#000"/>
<rect x="697" y="471" width="4" height="2" fill="#000"/>
<rect x="697" y="460" width="4" height="2" fill="#000"/>
<rect x="697" y="448" width="8" height="2" fill="#000"/>
<rect x="697" y="437" width="4" height="2" fill="#000"/>
<rect x="697" y="426" width="4" height="2" fill="#000"/>
<rect x="697" y="415" width="4" height="2" fill="#000"/>
<rect x="697" y="404" width="4" height="2" fill="#000"/>
<rect x="697" y="393" width="8" height="2" fill="#000"/>
<rect x="697" y="382" width="4" height="2" fill="#000"/>
<rect x="697" y="371" width="4" height="2" fill="#000"/>
<rect x="697" y="359" width="4" height="2" fill="#000"/>
<rect x="697" y="348" width="4" height="2" fill="#000"/>
<rect x="697" y="337" width="8" height="2" fill="#000"/>
</g>
<text font-size="24.311" fill="#000" transform="translate(81.546 512.657) scale(0.8627 1)">0</text>
<text font-size="24.311" fill="#000" transform="translate(69.906 460.157) scale(0.8627 1)">40</text>
<text font-size="24.311" fill="#000" transform="translate(69.906 408.157) scale(0.8627 1)">80</text>
<text font-size="24.311" fill="#000" transform="translate(58.214 356.157) scale(0.8627 1)">120</text>
<text font-size="24.311" fill="#000" transform="translate(58.214 304.157) scale(0.8627 1)">160</text>
<text font-size="24.311" fill="#000" transform="translate(58.214 251.157) scale(0.8627 1)">200</text>
<text font-size="24.311" fill="#000" transform="translate(58.214 199.157) scale(0.8627 1)">240</text>
<text font-size="24.311" fill="#000" transform="translate(58.214 147.157) scale(0.8627 1)">280</text>
<text font-size="24.311" fill="#000" transform="translate(58.214 94.657) scale(0.8627 1)">320</text>
<text font-size="24.311" fill="#000" transform="translate(104.996 542.857) scale(0.8860 1)">0</text>
<text font-size="24.311" fill="#000" transform="translate(166.704 542.857) scale(0.8860 1)">400</text>
<text font-size="24.311" fill="#000" transform="translate(239.488 542.857) scale(0.8860 1)">800</text>
<text font-size="24.311" fill="#000" transform="translate(306.162 542.857) scale(0.8860 1)">1200</text>
<text font-size="24.311" fill="#000" transform="translate(379.162 542.857) scale(0.8860 1)">1600</text>
<text font-size="24.311" fill="#000" transform="translate(452.431 542.857) scale(0.8860 1)">2000</text>
<text font-size="24.311" fill="#000" transform="translate(525.431 542.857) scale(0.8860 1)">2400</text>
<text font-size="24.311" fill="#000" transform="translate(598.431 542.857) scale(0.8860 1)">2800</text>
<text font-size="24.311" fill="#B81631" style="stroke-width:0.18px" transform="translate(713.661 261.757) scale(0.8627 1)">0</text>
<text font-size="24.311" fill="#B81631" style="stroke-width:0.18px" transform="translate(714.028 220.057) scale(0.8627 1)">400</text>
<text font-size="24.311" fill="#B81631" style="stroke-width:0.18px" transform="translate(713.609 178.357) scale(0.8627 1)">800</text>
<text font-size="24.311" fill="#B81631" style="stroke-width:0.18px" transform="translate(712.927 136.657) scale(0.8627 1)">1.200</text>
<text font-size="24.311" fill="#B81631" style="stroke-width:0.18px" transform="translate(712.927 94.957) scale(0.8627 1)">1.600</text>
<text font-size="24.311" fill="#000" transform="translate(713.133 512.857) scale(0.8911 1)">0,0</text>
<text font-size="24.311" fill="#000" transform="translate(712.375 457.157) scale(0.8911 1)">1,0</text>
<text font-size="24.311" fill="#000" transform="translate(712.917 401.457) scale(0.8911 1)">2,0</text>
<text font-size="24.311" fill="#000" transform="translate(713.188 345.757) scale(0.8911 1)">3,0</text>
<text font-size="28.945" fill="#000" style="stroke-width:0.5px" transform="translate(252.884 34.900) scale(0.9092 1)">CBM</text>
<text font-size="28.945" fill="#000" style="stroke-width:0.5px" transform="translate(312.971 34.900) scale(1.0970 1)">-</text>
<text font-size="28.945" fill="#000" style="stroke-width:0.5px" transform="translate(325.605 34.900) scale(0.9188 1)">10/8</text>
<text font-size="28.945" fill="#000" style="stroke-width:0.5px" transform="translate(384.700 34.900) scale(0.8979 1)">245</text>
<text font-size="28.945" fill="#000" style="stroke-width:0.5px" transform="translate(435.605 34.900) scale(0.8945 1)">6P</text>
<text font-size="28.945" fill="#000" style="stroke-width:0.5px" transform="translate(475.711 34.900) scale(0.8330 1)">RE</text>
<text font-size="28.945" fill="#000" style="stroke-width:0.5px" transform="translate(517.583 34.900) scale(0.8111 1)">VR</text>
<text font-size="24.966" fill="#000" transform="translate(57.312 41.519) scale(0.9168 1)">p</text>
<text font-size="14.608" fill="#000" transform="translate(68.698 48.454) scale(1.0007 1)">sf</text>
<text font-size="18.182" fill="#000" transform="translate(56.968 66.400) scale(1.0865 1)">[Pa]</text>
<text font-size="23.604" fill="#B81631" style="stroke-width:0.18px" transform="translate(646.292 69.664) scale(0.8547 1)">S</text>
<text font-size="23.273" fill="#B81631" style="stroke-width:0.18px" transform="translate(662.357 69.600) scale(0.9079 1)">F</text>
<text font-size="23.273" fill="#B81631" style="stroke-width:0.18px" transform="translate(676.456 69.600) scale(0.9602 1)">P</text>
<text font-size="18.764" fill="#B81631" style="stroke-width:0.18px" transform="translate(698.779 69.600) scale(0.9712 1)">[W/m</text>
<text font-size="11.731" fill="#B81631" style="stroke-width:0.18px" transform="translate(740.653 62.583) scale(0.7896 1)">3</text>
<text font-size="18.764" fill="#B81631" style="stroke-width:0.18px" transform="translate(746.000 69.600) scale(0.9739 1)">/s]</text>
<text font-size="24.291" fill="#000" transform="translate(712.700 313.800) scale(0.9791 1)">I</text>
<text font-size="18.618" fill="#000" transform="translate(719.051 313.800) scale(0.9250 1)">[A]</text>
<text font-size="21.611" fill="#000" transform="translate(679.184 542.816) scale(0.9974 1)">q</text>
<text font-size="11.374" fill="#000" transform="translate(691.139 542.700) scale(1.0765 1)">v</text>
<text font-size="15.256" fill="#000" transform="translate(700.761 542.200) scale(1.3009 1)">[m</text>
<text font-size="11.025" fill="#000" transform="translate(720.597 535.690) scale(0.9739 1)">3</text>
<text font-size="15.256" fill="#000" transform="translate(727.000 542.200) scale(1.1318 1)">/h]</text>
<text font-size="18.065" fill="#1C4688" style="stroke:none" transform="translate(410.199 203.700) scale(0.9505 1)">72</text>
<text font-size="18.327" fill="#1C4688" style="stroke:none" transform="translate(390.289 245.700) scale(0.8428 1)">71</text>
<text font-size="17.951" fill="#1C4688" style="stroke:none" transform="translate(340.325 343.420) scale(0.9746 1)">66</text>
<text font-size="18.208" fill="#1C4688" style="stroke:none" transform="translate(494.804 303.800) scale(0.9376 1)">72</text>
<text font-size="18.351" fill="#1C4688" style="stroke:none" transform="translate(537.683 407.800) scale(0.9519 1)">72</text>
<text font-size="18.092" fill="#1C4688" style="stroke:none" transform="translate(664.495 346.619) scale(0.9530 1)">78</text>
<text font-size="18.799" fill="#1C4688" style="stroke:none" transform="translate(393.444 452.912) scale(0.9112 1)">62</text>
<text font-size="19.068" fill="#1C4688" style="stroke:none" transform="translate(274.720 462.909) scale(0.8910 1)">55</text>
<text font-size="18.925" fill="#1C4688" style="stroke:none" transform="translate(554.592 240.911) scale(0.9140 1)">75</text>
<text font-size="19.200" fill="#1C4688" style="stroke:none" transform="translate(581.250 241.100) scale(0.8525 1)">Lw</text>
<text font-size="18.036" fill="#1C4688" style="stroke:none" transform="translate(607.443 240.200) scale(0.9614 1)">[dB(A)]</text>
<text font-size="20.073" fill="#000" style="font-family:'Liberation Serif',serif" transform="translate(496.657 212.734) scale(1.1387 1)">η</text>
<text font-size="21.918" fill="#000" transform="translate(511.149 215.381) scale(1.0486 1)">max</text>
<text font-size="17.809" fill="#000" style="stroke:none" transform="translate(281.600 214.700) rotate(10) translate(-19.990 6.122) scale(0.9432 1)">230V</text>
<text font-size="17.809" fill="#000" style="stroke:none" transform="translate(266.000 258.500) rotate(20) translate(-18.397 6.122) scale(0.8591 1)">180V</text>
<text font-size="17.809" fill="#000" style="stroke:none" transform="translate(253.200 279.900) rotate(34) translate(-18.397 6.122) scale(0.8591 1)">140V</text>
<text font-size="17.809" fill="#000" style="stroke:none" transform="translate(186.000 340.900) rotate(54) translate(-17.598 6.122) scale(0.8217 1)">100V</text>
<rect x="11.0" y="580" width="76.2" height="36" fill="#98B0D2"/>
<rect x="11.0" y="620" width="76.2" height="36" fill="#E5EAF3"/>
<rect x="91.2" y="580" width="76.2" height="36" fill="#98B0D2"/>
<rect x="91.2" y="620" width="76.2" height="36" fill="#E5EAF3"/>
<rect x="171.4" y="580" width="76.2" height="36" fill="#98B0D2"/>
<rect x="171.4" y="620" width="76.2" height="36" fill="#E5EAF3"/>
<rect x="251.7" y="580" width="76.2" height="36" fill="#98B0D2"/>
<rect x="251.7" y="620" width="76.2" height="36" fill="#E5EAF3"/>
<rect x="331.9" y="580" width="76.2" height="36" fill="#98B0D2"/>
<rect x="331.9" y="620" width="76.2" height="36" fill="#E5EAF3"/>
<rect x="412.1" y="580" width="76.2" height="36" fill="#98B0D2"/>
<rect x="412.1" y="620" width="76.2" height="36" fill="#E5EAF3"/>
<rect x="492.3" y="580" width="76.2" height="36" fill="#98B0D2"/>
<rect x="492.3" y="620" width="76.2" height="36" fill="#E5EAF3"/>
<rect x="572.5" y="580" width="76.2" height="36" fill="#98B0D2"/>
<rect x="572.5" y="620" width="76.2" height="36" fill="#E5EAF3"/>
<rect x="652.8" y="580" width="76.2" height="36" fill="#98B0D2"/>
<rect x="652.8" y="620" width="76.2" height="36" fill="#E5EAF3"/>
<rect x="733.0" y="580" width="76.2" height="36" fill="#98B0D2"/>
<rect x="733.0" y="620" width="76.2" height="36" fill="#E5EAF3"/>
<text font-size="22.965" fill="#000" style="stroke:#98B0D2" transform="translate(28.038 605.900) scale(0.9299 1)">MC*</text>
<text font-size="22.965" fill="#000" style="stroke:#98B0D2" transform="translate(109.867 605.900) scale(0.9149 1)">EC*</text>
<text font-size="22.965" fill="#000" style="stroke:#98B0D2" transform="translate(185.101 605.900) scale(0.8646 1)">VSD*</text>
<text font-size="22.965" fill="#000" style="stroke:#98B0D2" transform="translate(270.978 605.900) scale(0.8924 1)">SR*</text>
<text font-size="22.965" fill="#000" style="stroke:#98B0D2" transform="translate(341.583 605.900) scale(1.0098 1)">η[%]*</text>
<text font-size="22.965" fill="#000" style="stroke:#98B0D2" transform="translate(435.455 605.900) scale(1.0795 1)">N*</text>
<text font-size="22.965" fill="#000" style="stroke:#98B0D2" transform="translate(508.504 605.900) scale(0.9588 1)">[kW]</text>
<text font-size="22.965" fill="#000" style="stroke:#98B0D2" transform="translate(580.060 605.900) scale(1.0451 1)">[m³/h]</text>
<text font-size="22.965" fill="#000" style="stroke:#98B0D2" transform="translate(670.490 605.900) scale(0.9668 1)">[Pa]</text>
<text font-size="22.965" fill="#000" style="stroke:#98B0D2" transform="translate(740.418 605.900) scale(0.9502 1)">[RPM]</text>
<text font-size="22.965" fill="#000" style="stroke:#E5EAF3" transform="translate(41.903 645.900) scale(0.9486 1)">B</text>
<text font-size="22.965" fill="#000" style="stroke:#E5EAF3" transform="translate(107.203 645.900) scale(0.9624 1)">Total</text>
<text font-size="22.965" fill="#000" style="stroke:#E5EAF3" transform="translate(195.899 645.900) scale(0.9000 1)">No</text>
<text font-size="22.965" fill="#000" style="stroke:#E5EAF3" transform="translate(284.638 645.900) scale(0.6746 1)">1</text>
<text font-size="22.965" fill="#000" style="stroke:#E5EAF3" transform="translate(349.819 645.900) scale(0.9070 1)">35,5</text>
<text font-size="22.965" fill="#000" style="stroke:#E5EAF3" transform="translate(430.142 645.900) scale(0.8871 1)">44,3</text>
<text font-size="22.965" fill="#000" style="stroke:#E5EAF3" transform="translate(504.373 645.900) scale(0.9005 1)">0,405</text>
<text font-size="22.965" fill="#000" style="stroke:#E5EAF3" transform="translate(584.680 645.900) scale(0.8881 1)">2.099</text>
<text font-size="22.965" fill="#000" style="stroke:#E5EAF3" transform="translate(672.967 645.900) scale(0.9001 1)">247</text>
<text font-size="22.965" fill="#000" style="stroke:#E5EAF3" transform="translate(753.947 645.900) scale(0.8736 1)">905</text>
</svg></body></html>
